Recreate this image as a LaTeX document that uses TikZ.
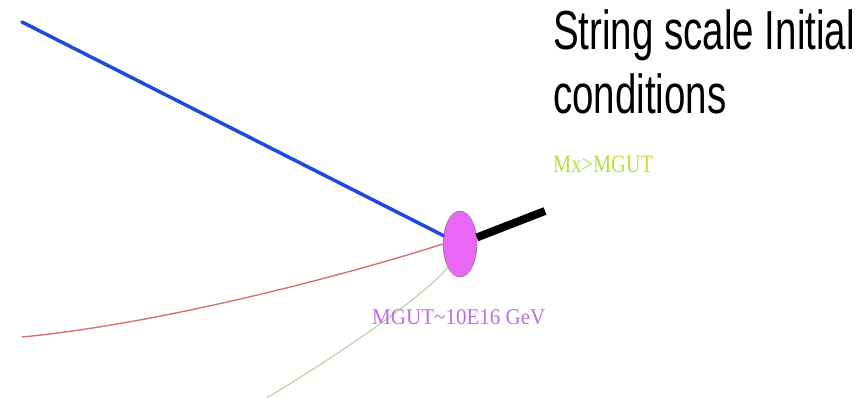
\documentclass[tikz,border=0pt]{standalone}
\usepackage{fontspec}
\setmainfont{Liberation Serif}
\newfontfamily\titlefont{Liberation Sans}
\usetikzlibrary{shapes.geometric}
\definecolor{runblue}{RGB}{30,75,215}
\definecolor{runred}{RGB}{210,115,115}
\definecolor{rungreen}{RGB}{175,205,155}
\definecolor{gutviolet}{RGB}{234,102,245}
\definecolor{gutlabel}{RGB}{185,110,240}
\definecolor{stringlabel}{RGB}{180,225,60}
\tikzset{
  gut blob/.style={
    ellipse, draw=gray!90!black, fill=gutviolet, thin,
    minimum width=34pt, minimum height=66pt, inner sep=0pt
  },
  scale label/.style={inner sep=0pt, anchor=base west, xscale=0.85, transform shape},
  coupling line/.style={line cap=round}
}

\begin{document}
\begin{tikzpicture}[x=1pt,y=-1pt]
    \useasboundingbox (0,0) rectangle (864,398);
    \node[gut blob] (gut) at (460,244) {};
    \coordinate (blue start) at (22,22);
    \coordinate (red start) at (22,337);
    \coordinate (green start) at (265,399);
    \coordinate (string end) at (545,211);
    % running couplings meeting at the GUT scale
    \draw[coupling line, runblue, line width=3.5pt] (blue start) -- (gut);
    \draw[coupling line, runred, line width=1.4pt] (red start) .. controls (150,325) and (330,280) .. (gut.west);
    \draw[coupling line, rungreen, line width=1pt] (green start) .. controls (330,360) and (420,300) .. (gut.south west);
    \draw[black, line width=8pt] (gut) -- (string end);
    % labels
    \node[inner sep=0pt, anchor=north west, align=left, xscale=0.70, transform shape,
      font=\titlefont\fontsize{55}{64}\selectfont] (title) at (553,9)
      {String scale Initial\\conditions};
    \node[scale label, text=stringlabel, font=\fontsize{25}{25}\selectfont, xscale=0.96] (mx) at (553,172) {Mx>MGUT};
    \node[scale label, text=gutlabel, font=\fontsize{22.5}{22.5}\selectfont, xscale=1.1] (mgut) at (372,324) {MGUT\textasciitilde 10E16 GeV};
  \end{tikzpicture}
\end{document}
